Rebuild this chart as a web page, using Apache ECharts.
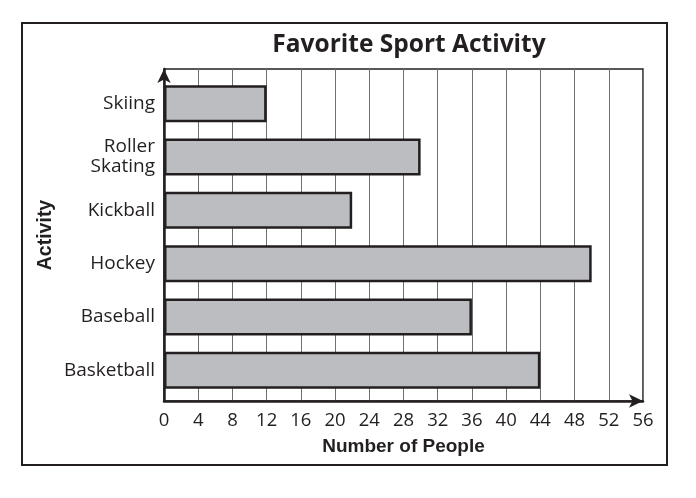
<!DOCTYPE html>
<html>
<head>
<meta charset="utf-8">
<script src="https://cdnjs.cloudflare.com/ajax/libs/echarts/6.0.0/echarts.min.js"></script>
<style>
  html, body { margin: 0; padding: 0; background: #fff; }
  #chart { width: 696px; height: 498px; }
</style>
</head>
<body>
<div id="chart"></div>
<script>
// data
const activities = ['Skiing', 'Roller\nSkating', 'Kickball', 'Hockey', 'Baseball', 'Basketball'];
const people = [12, 30, 22, 50, 36, 44];
const xTicks = [0, 4, 8, 12, 16, 20, 24, 28, 32, 36, 40, 44, 48, 52, 56];

const ink = '#231f20';
const font = '"Open Sans", "Noto Sans", sans-serif';
const boldFont = '"Liberation Sans", Arial, sans-serif';

let chart = echarts.init(document.getElementById('chart'));

let option = {
    animation: false,
    title: {
        text: 'Favorite Sport Activity',
        left: 404,
        top: 28,
        textAlign: 'center',
        textStyle: { fontFamily: font, fontWeight: 'bold', fontSize: 24.5, color: ink }
    },
    graphic: [
        {
            // outer frame
            type: 'rect',
            shape: { x: 22, y: 23, width: 645, height: 442 },
            style: { fill: 'none', stroke: ink, lineWidth: 2 },
            z: 0
        }
    ],
    grid: [
        // grid 0: value scale, gridlines, arrows
        { left: 164, right: 53, top: 69, bottom: 97, show: true, borderColor: ink, borderWidth: 1.5 },
        // grid 1: category bands for the bars
        { left: 164, right: 53, top: 77, bottom: 101 }
    ],
    xAxis: [
        {
            gridIndex: 0,
            type: 'value',
            min: xTicks[0],
            max: xTicks[xTicks.length - 1],
            interval: 4,
            name: 'Number of People',
            nameLocation: 'middle',
            nameGap: 36,
            nameTextStyle: { fontFamily: boldFont, fontWeight: 'bold', fontSize: 19, color: ink },
            axisLine: { show: true, symbol: ['none', 'arrow'], symbolSize: [10, 14], lineStyle: { color: ink, width: 2.5 } },
            axisTick: { show: false },
            axisLabel: { fontFamily: font, fontSize: 18.5, color: ink, margin: 10 },
            splitLine: { show: true, lineStyle: { color: '#707070', width: 1 } }
        },
        {
            gridIndex: 1,
            type: 'value',
            min: xTicks[0],
            max: xTicks[xTicks.length - 1],
            show: false
        }
    ],
    yAxis: [
        {
            gridIndex: 0,
            type: 'value',
            min: 0,
            max: 1,
            name: 'Activity',
            nameLocation: 'middle',
            nameGap: 108,
            nameRotate: 90,
            nameTextStyle: { fontFamily: boldFont, fontWeight: 'bold', fontSize: 19.5, color: ink },
            axisLine: { show: true, symbol: ['none', 'arrow'], symbolSize: [10, 14], lineStyle: { color: ink, width: 2.5 } },
            axisTick: { show: false },
            axisLabel: { show: false },
            splitLine: { show: false }
        },
        {
            gridIndex: 1,
            type: 'category',
            inverse: true,
            data: activities,
            axisLine: { show: false },
            axisTick: { show: false },
            axisLabel: { fontFamily: font, fontSize: 19, color: ink, margin: 9, lineHeight: 20, align: 'right' }
        }
    ],
    series: [
        {
            type: 'bar',
            xAxisIndex: 1,
            yAxisIndex: 1,
            data: people,
            barWidth: 37,
            itemStyle: { color: '#bcbdc0', borderColor: ink, borderWidth: 2.5 }
        }
    ]
};

chart.setOption(option);
</script>
</body>
</html>
